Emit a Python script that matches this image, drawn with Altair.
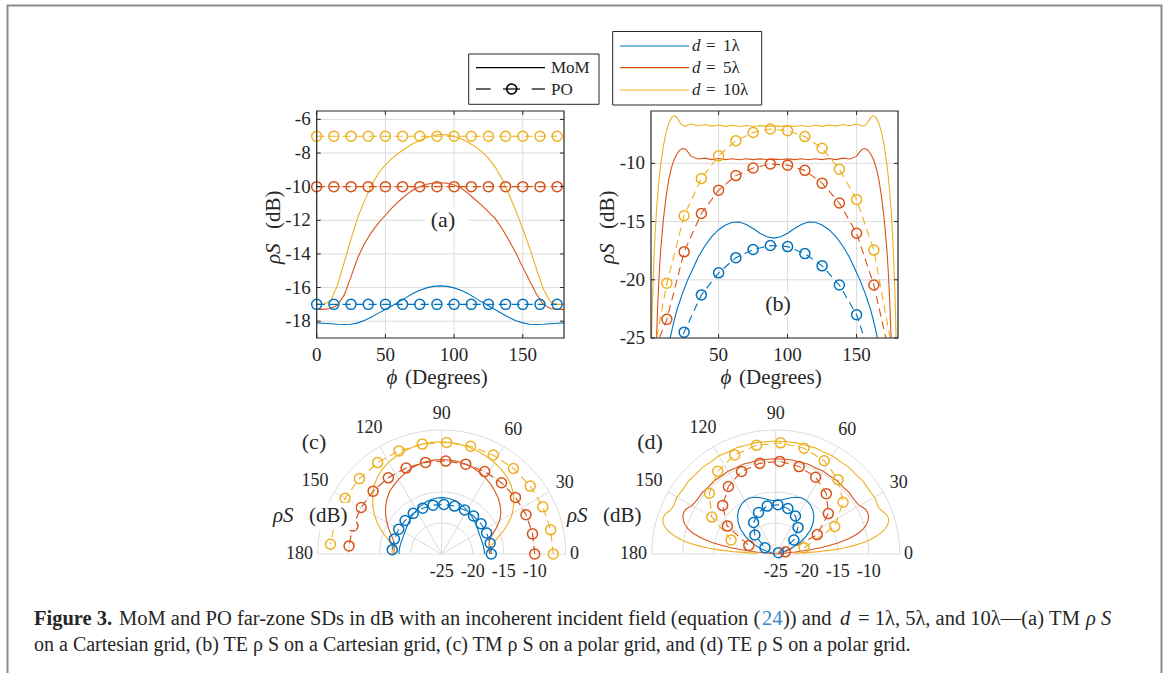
import altair as alt
import pandas as pd

FONT = "Liberation Serif"
INK = "#262626"
GRID = "#dcdcdc"
SERIES = ["d1", "d5", "d10"]
COLORS = ["#0072BD", "#D95319", "#EDB120"]

# ---------------- data (dB values) ----------------
TM_PHI = [0, 5, 10, 15, 20, 25, 30, 35, 40, 45, 50, 55, 60, 65, 70, 75, 80, 85, 90,
          95, 100, 105, 110, 115, 120, 125, 130, 135, 140, 145, 150, 155, 160, 165, 170, 175, 180]
TM_MOM_D1 = [-18.10, -18.12, -18.15, -18.18, -18.20, -18.18, -18.10, -17.95, -17.75, -17.52,
             -17.30, -17.08, -16.85, -16.60, -16.36, -16.16, -16.02, -15.93, -15.90,
             -15.93, -16.02, -16.16, -16.36, -16.60, -16.85, -17.08, -17.32, -17.56, -17.78,
             -17.97, -18.10, -18.18, -18.20, -18.18, -18.15, -18.12, -18.10]
TM_MOM_D5 = [-17.30, -17.30, -17.25, -17.05, -16.45, -15.35, -14.20, -13.35, -12.70, -12.15,
             -11.70, -11.25, -10.85, -10.50, -10.20, -10.00, -9.86, -9.78, -9.77,
             -9.80, -9.90, -10.08, -10.38, -10.75, -11.10, -11.50, -11.90, -12.50, -13.20,
             -13.95, -14.80, -15.60, -16.40, -17.00, -17.25, -17.30, -17.30]
TM_MOM_D10 = [-17.00, -17.00, -16.80, -15.90, -14.50, -13.10, -11.80, -10.80, -9.90, -9.20,
              -8.70, -8.30, -7.98, -7.70, -7.45, -7.25, -7.08, -6.96, -6.90,
              -6.92, -7.00, -7.15, -7.35, -7.60, -7.90, -8.30, -8.85, -9.55, -10.45,
              -11.45, -12.50, -13.65, -14.90, -16.10, -16.85, -17.00, -17.00]

PO_PHI = [0, 12.5, 25, 37.5, 50, 62.5, 75, 87.5, 100, 112.5, 125, 137.5, 150, 162.5, 175]
TM_PO_D1 = [-17, -17, -17, -17, -17, -17, -17, -17, -17, -17, -17, -17, -17, -17, -17]
TM_PO_D5 = [-10, -10, -10, -10, -10, -10, -10, -10, -10, -10, -10, -10, -10, -10, -10]
TM_PO_D10 = [-7, -7, -7, -7, -7, -7, -7, -7, -7, -7, -7, -7, -7, -7, -7]

TE_PHI = [1, 2, 3, 4, 5, 6, 7, 8, 10, 12, 14, 16, 18, 20, 22, 24, 26, 28, 30,
          35, 40, 45, 50, 55, 60, 65, 70, 75, 80, 85, 90, 95, 100, 105, 110, 115, 120, 125, 130, 135, 140, 145,
          150, 152, 154, 156, 158, 160, 162, 164, 166, 168, 170, 172, 173, 174, 175, 176, 177, 178, 179]
TE_MOM_D1 = [-55, -50, -46, -42, -39, -36, -33.5, -31.5, -28.6, -26.8, -25.5, -24.4, -23.4, -22.5, -21.8, -21.1, -20.5, -19.9, -19.4,
             -18.1, -17.1, -16.3, -15.7, -15.3, -15.06, -15.04, -15.25, -15.6, -16.0, -16.3, -16.42, -16.3, -16.0, -15.6, -15.25,
             -15.04, -15.06, -15.3, -15.7, -16.3, -17.1, -18.1,
             -19.4, -19.9, -20.5, -21.1, -21.8, -22.5, -23.4, -24.4, -25.5, -26.8, -28.6, -31.5, -33.5, -36, -39, -42, -46, -50, -55]
TE_MOM_D5 = [-45, -38, -32, -28, -25, -21.8, -19.4, -17.5, -14.8, -12.8, -11.3, -10.3, -9.6, -9.15, -8.85, -8.72, -8.78, -9.05, -9.4,
             -9.62, -9.55, -9.68, -9.58, -9.68, -9.6, -9.69, -9.6, -9.68, -9.61, -9.67, -9.63, -9.67, -9.61, -9.68, -9.6,
             -9.69, -9.6, -9.68, -9.58, -9.68, -9.55, -9.62,
             -9.4, -9.05, -8.78, -8.72, -8.85, -9.15, -9.6, -10.3, -11.3, -12.8, -14.8, -17.5, -19.4, -21.8, -25, -28, -32, -38, -45]
TE_MOM_D10 = [-27.0, -22.0, -18.6, -16.0, -14.0, -12.5, -11.2, -10.1, -8.5, -7.3, -6.5, -6.05, -5.9, -6.1, -6.5, -6.75, -6.8, -6.68, -6.62,
              -6.76, -6.66, -6.8, -6.7, -6.82, -6.72, -6.83, -6.74, -6.83, -6.76, -6.82, -6.78, -6.82, -6.76, -6.83, -6.74,
              -6.83, -6.72, -6.82, -6.7, -6.8, -6.66, -6.76,
              -6.62, -6.68, -6.8, -6.75, -6.5, -6.1, -5.9, -6.05, -6.5, -7.3, -8.5, -10.1, -11.2, -12.5, -14.0, -16.0, -18.6, -22.0, -27.0]
TE_PO_D1 = [-40.0, -29.0, -24.5, -21.3, -19.4, -18.1, -17.4, -17.05, -17.15, -17.75, -18.8, -20.45, -23.0, -27.5, -40.0]
TE_PO_D5 = [-27.0, -23.4, -17.6, -14.3, -12.3, -11.05, -10.4, -10.05, -10.15, -10.6, -11.7, -13.4, -16.0, -20.45, -27.0]
TE_PO_D10 = [-28.2, -20.3, -14.5, -11.3, -9.35, -8.05, -7.35, -7.05, -7.2, -7.7, -8.7, -10.5, -13.1, -17.45, -25.5]

A_XTICKS = [0, 50, 100, 150]
A_YTICKS = [-18, -16, -14, -12, -10, -8, -6]
B_XTICKS = [50, 100, 150]
B_YTICKS = [-25, -20, -15, -10]
RINGS = [-20, -15, -10, -5]
SPOKES = [0, 30, 60, 90, 120, 150, 180]
R_TICKS = [-25, -20, -15, -10]
LEGEND_NUM = ["1λ", "5λ", "10λ"]


def long_df(phi, cols):
    rows = []
    for s, vals in zip(SERIES, cols):
        for p, v in zip(phi, vals):
            rows.append({"phi": p, "val": v, "s": s})
    return pd.DataFrame(rows)


tm_mom = long_df(TM_PHI, [TM_MOM_D1, TM_MOM_D5, TM_MOM_D10])
tm_po = long_df(PO_PHI, [TM_PO_D1, TM_PO_D5, TM_PO_D10])
te_mom = long_df(TE_PHI, [TE_MOM_D1, TE_MOM_D5, TE_MOM_D10])
te_po = long_df(PO_PHI, [TE_PO_D1, TE_PO_D5, TE_PO_D10])
ONE = pd.DataFrame({"k": [0]})

# ---------------- geometry ----------------
OX, OY = 651.0, 111.0          # plot-area origin = panel (b)
PW, PH = 247, 227
MSIZE = 100
DASH = [8, 5]


def px(v):
    return alt.value(round(v - OX, 2))


def py(v):
    return alt.value(round(v - OY, 2))


def lin(domain, a, b, off):
    return alt.Scale(domain=domain, range=[round(a - off, 2), round(b - off, 2)], nice=False, zero=False)


XA = lin([0, 180], 316.7, 564.0, OX)
YA = lin([-19, -5.5], 338.0, 111.0, OY)
XB = lin([1, 180], 651.0, 898.0, OX)
YB = lin([-25, -5.5], 338.0, 111.0, OY)
RPX = 124.0
XC = lin([-20, 20], 441.7 - RPX, 441.7 + RPX, OX)
YC = lin([0, 20], 554.0, 554.0 - RPX, OY)
XD = lin([-20, 20], 775.7 - RPX, 775.7 + RPX, OX)
YD = lin([0, 20], 554.0, 554.0 - RPX, OY)

COLOR = alt.Color("s:N", scale=alt.Scale(domain=SERIES, range=COLORS), legend=None)


def qx(f, sc):
    return alt.X(f, type="quantitative", scale=sc, axis=None)


def qy(f, sc):
    return alt.Y(f, type="quantitative", scale=sc, axis=None)


def dX(v, sc):
    return alt.X(datum=v, scale=sc, axis=None)


def dY(v, sc):
    return alt.Y(datum=v, scale=sc, axis=None)


def text(s, x, y, size=19, align="center", baseline="middle", style="normal",
         weight="normal", color=INK, angle=None):
    kw = dict(text=s, align=align, baseline=baseline, fontSize=size, font=FONT,
              fontStyle=style, fontWeight=weight, color=color)
    if angle is not None:
        kw["angle"] = angle
    return alt.Chart(ONE).mark_text(**kw).encode(x=px(x), y=py(y))


def box(x0, y0, x1, y1, fill=None, stroke=None, sw=1.0):
    kw = {}
    if fill is not None:
        kw["fill"] = fill
    else:
        kw["fillOpacity"] = 0
    if stroke is not None:
        kw["stroke"] = stroke
        kw["strokeWidth"] = sw
    return alt.Chart(ONE).mark_rect(**kw).encode(x=px(x0), x2=px(x1), y=py(y0), y2=py(y1))


def seg(x0, y0, x1, y1, color=INK, sw=1.0):
    return alt.Chart(ONE).mark_rule(color=color, strokeWidth=sw).encode(
        x=px(x0), x2=px(x1), y=py(y0), y2=py(y1))


def cart_panel(mom, po, xs, ys, xdom, ydom, xticks, yticks, clip):
    gx = pd.DataFrame({"t": xticks})
    gy = pd.DataFrame({"t": yticks})
    L = []
    L.append(alt.Chart(gx).mark_rule(color=GRID, strokeWidth=1).encode(
        x=qx("t:Q", xs), y=dY(ydom[0], ys), y2=alt.Y2(datum=ydom[1])))
    L.append(alt.Chart(gy).mark_rule(color=GRID, strokeWidth=1).encode(
        y=qy("t:Q", ys), x=dX(xdom[0], xs), x2=alt.X2(datum=xdom[1])))
    L.append(alt.Chart(mom).mark_line(strokeWidth=1.1, clip=clip).encode(
        x=qx("phi:Q", xs), y=qy("val:Q", ys), color=COLOR))
    L.append(alt.Chart(po).mark_line(strokeWidth=1.1, strokeDash=DASH, clip=clip).encode(
        x=qx("phi:Q", xs), y=qy("val:Q", ys), color=COLOR))
    L.append(alt.Chart(po).mark_point(shape="circle", filled=False, size=MSIZE, strokeWidth=1.5,
                                      opacity=1, clip=clip).encode(
        x=qx("phi:Q", xs), y=qy("val:Q", ys), color=COLOR))
    # frame
    L.append(alt.Chart(ONE).mark_rect(fillOpacity=0, stroke=INK, strokeWidth=1.2).encode(
        x=dX(xdom[0], xs), x2=alt.X2(datum=xdom[1]), y=dY(ydom[0], ys), y2=alt.Y2(datum=ydom[1])))
    # inward ticks
    L.append(alt.Chart(gx).mark_rule(color=INK, strokeWidth=1, y2Offset=-4).encode(
        x=qx("t:Q", xs), y=dY(ydom[0], ys), y2=alt.Y2(datum=ydom[0])))
    L.append(alt.Chart(gx).mark_rule(color=INK, strokeWidth=1, y2Offset=4).encode(
        x=qx("t:Q", xs), y=dY(ydom[1], ys), y2=alt.Y2(datum=ydom[1])))
    L.append(alt.Chart(gy).mark_rule(color=INK, strokeWidth=1, x2Offset=4).encode(
        y=qy("t:Q", ys), x=dX(xdom[0], xs), x2=alt.X2(datum=xdom[0])))
    L.append(alt.Chart(gy).mark_rule(color=INK, strokeWidth=1, x2Offset=-4).encode(
        y=qy("t:Q", ys), x=dX(xdom[1], xs), x2=alt.X2(datum=xdom[1])))
    # tick labels
    L.append(alt.Chart(gx).transform_calculate(lab="'' + datum.t").mark_text(
        font=FONT, fontSize=19, color=INK, baseline="middle", dy=17).encode(
        x=qx("t:Q", xs), y=dY(ydom[0], ys), text="lab:N"))
    L.append(alt.Chart(gy).transform_calculate(lab="'' + datum.t").mark_text(
        font=FONT, fontSize=19, color=INK, baseline="middle", align="right", dx=-6).encode(
        y=qy("t:Q", ys), x=dX(xdom[0], xs), text="lab:N"))
    return L


def polar_xy(ch):
    return (ch.transform_calculate(r="datum.val + 25")
            .transform_filter("datum.r >= 0")
            .transform_calculate(qx="datum.r * cos(datum.phi * PI / 180)",
                                 qy="datum.r * sin(datum.phi * PI / 180)"))


SEMI = "M -1 0 A 1 1 0 0 1 1 0"


def polar_panel(mom, po, xs, ys):
    L = []
    rings = pd.DataFrame({"v": RINGS})
    L.append(alt.Chart(rings).transform_calculate(rr="datum.v + 25", z="0").mark_point(
        shape=SEMI, filled=False, color=GRID, strokeWidth=1, opacity=1).encode(
        x=qx("z:Q", xs), y=qy("z:Q", ys),
        size=alt.Size("rr:Q", scale=alt.Scale(type="pow", exponent=2, domain=[0, 20],
                                              range=[0, 4 * RPX * RPX]), legend=None)))
    sp = pd.DataFrame({"a": SPOKES})
    L.append(alt.Chart(sp).transform_calculate(
        z="0", sx="20 * cos(datum.a * PI / 180)", sy="20 * sin(datum.a * PI / 180)").mark_rule(
        color=GRID, strokeWidth=1).encode(x=qx("z:Q", xs), y=qy("z:Q", ys), x2="sx:Q", y2="sy:Q"))
    L.append(polar_xy(alt.Chart(mom)).mark_line(strokeWidth=1.1).encode(
        x=qx("qx:Q", xs), y=qy("qy:Q", ys), color=COLOR, order=alt.Order("phi:Q")))
    L.append(polar_xy(alt.Chart(po)).mark_line(strokeWidth=1.1, strokeDash=DASH).encode(
        x=qx("qx:Q", xs), y=qy("qy:Q", ys), color=COLOR, order=alt.Order("phi:Q")))
    L.append(polar_xy(alt.Chart(po)).mark_point(shape="circle", filled=False, size=MSIZE,
                                                strokeWidth=1.5, opacity=1).encode(
        x=qx("qx:Q", xs), y=qy("qy:Q", ys), color=COLOR))
    # angle labels
    L.append(alt.Chart(sp).transform_calculate(
        t="datum.a * PI / 180", lab="'' + datum.a").transform_calculate(
        lr="(128 + 4.7 * length(datum.lab) * abs(cos(datum.t)) + 12 * sin(datum.t)) / 6.2").transform_calculate(
        lx="datum.lr * cos(datum.t)", ly="datum.lr * sin(datum.t)").mark_text(
        font=FONT, fontSize=18, color=INK, baseline="middle").encode(
        x=qx("lx:Q", xs), y=qy("ly:Q", ys), text="lab:N"))
    # radial labels
    rt = pd.DataFrame({"v": R_TICKS})
    L.append(alt.Chart(rt).transform_calculate(rr="datum.v + 25", z="0", lab="'' + datum.v").mark_text(
        font=FONT, fontSize=18, color=INK, baseline="middle", dy=18).encode(
        x=qx("rr:Q", xs), y=qy("z:Q", ys), text="lab:N"))
    return L


layers = []
# figure border
layers.append(box(7.5, 5.5, 1161.5, 700, stroke="#8c8c8c", sw=2))

# ---- panel (a)
layers += cart_panel(tm_mom, tm_po, XA, YA, [0, 180], [-19, -5.5], A_XTICKS, A_YTICKS, False)
layers.append(box(425, 207, 468, 232, fill="white"))
layers.append(text("(a)", 443, 219.5, size=22))
layers.append(text("ϕ", 392, 378, size=21, style="italic"))
layers.append(text("(Degrees)", 405, 378, size=21, align="left"))
layers.append(text("ρS", 274, 264, size=21, style="italic", align="left", angle=270))
layers.append(text("(dB)", 274, 229, size=21, align="left", angle=270))

# ---- panel (b)
layers += cart_panel(te_mom, te_po, XB, YB, [1, 180], [-25, -5.5], B_XTICKS, B_YTICKS, True)
layers.append(box(762, 292, 795, 317, fill="white"))
layers.append(text("(b)", 778, 304, size=22))
layers.append(text("ϕ", 726, 378, size=21, style="italic"))
layers.append(text("(Degrees)", 739, 378, size=21, align="left"))
layers.append(text("ρS", 607.5, 264, size=21, style="italic", align="left", angle=270))
layers.append(text("(dB)", 607.5, 229, size=21, align="left", angle=270))

# ---- polar (c), (d)
layers += polar_panel(tm_mom, tm_po, XC, YC)
layers += polar_panel(te_mom, te_po, XD, YD)
layers.append(box(270, 503, 356, 530, fill="white"))
layers.append(text("ρS", 273, 516, size=21, style="italic", align="left"))
layers.append(text("(dB)", 309, 516, size=21, align="left"))
layers.append(box(564, 503, 650, 530, fill="white"))
layers.append(text("ρS", 567, 516, size=21, style="italic", align="left"))
layers.append(text("(dB)", 603, 516, size=21, align="left"))
layers.append(text("(c)", 314, 442, size=22))
layers.append(text("(d)", 650, 442, size=22))

# ---- legend 1 (MoM / PO)
layers.append(box(468.7, 54, 599, 104.3, fill="white", stroke=INK, sw=1))
layers.append(seg(476, 67.7, 545, 67.7, color="black", sw=1.2))
layers.append(text("MoM", 551, 68, size=17, align="left"))
layers.append(seg(476, 89, 490.7, 89, color="black", sw=1.2))
layers.append(seg(503, 89, 520, 89, color="black", sw=1.2))
layers.append(seg(531.7, 89, 545, 89, color="black", sw=1.2))
layers.append(alt.Chart(ONE).mark_point(shape="circle", filled=False, size=MSIZE, strokeWidth=1.6,
                                        color="black", opacity=1).encode(x=px(511.7), y=py(89)))
layers.append(text("PO", 551, 89.5, size=17, align="left"))

# ---- legend 2 (d values)
layers.append(box(612.7, 31.5, 761.7, 105, fill="white", stroke=INK, sw=1))
for i, (yy, lab) in enumerate(zip([46, 67.7, 90], LEGEND_NUM)):
    layers.append(seg(620, yy, 689.3, yy, color=COLORS[i], sw=1.2))
    layers.append(text("d", 692, yy, size=17, style="italic", align="left"))
    layers.append(text("=", 706, yy, size=17, align="left"))
    layers.append(text(lab, 723, yy, size=17, align="left"))

# ---- caption
CAP = 20.5
layers.append(text("Figure 3.", 34, 625, size=CAP, align="left", baseline="alphabetic", weight="bold"))
layers.append(text("MoM and PO far-zone SDs in dB with an incoherent incident field (equation (",
                   119, 625, size=CAP, align="left", baseline="alphabetic"))
layers.append(text("24", 762, 625, size=CAP, align="left", baseline="alphabetic", color="#3a86c8"))
layers.append(text(")) and", 783, 625, size=CAP, align="left", baseline="alphabetic"))
layers.append(text("d", 840, 625, size=CAP, align="left", baseline="alphabetic", style="italic"))
layers.append(text("=  1λ,  5λ,  and  10λ—(a)  TM", 858, 625, size=CAP, align="left", baseline="alphabetic"))
layers.append(text("ρ S", 1086, 625, size=CAP, align="left", baseline="alphabetic", style="italic"))
layers.append(text("on a Cartesian grid, (b) TE ρ S on a Cartesian grid, (c) TM ρ S on a polar grid, "
                   "and (d) TE ρ S on a polar grid.", 34, 651, size=20, align="left", baseline="alphabetic"))

chart = alt.layer(*layers).resolve_scale(x="independent", y="independent").properties(
    width=PW, height=PH,
    padding={"left": OX, "top": OY, "right": 1170 - OX - PW, "bottom": 673 - OY - PH},
    autosize=alt.AutoSizeParams(type="none"),
    background="white",
).configure_view(stroke=None)

chart.save("out.html", embed_options={"renderer": "svg", "actions": False})
